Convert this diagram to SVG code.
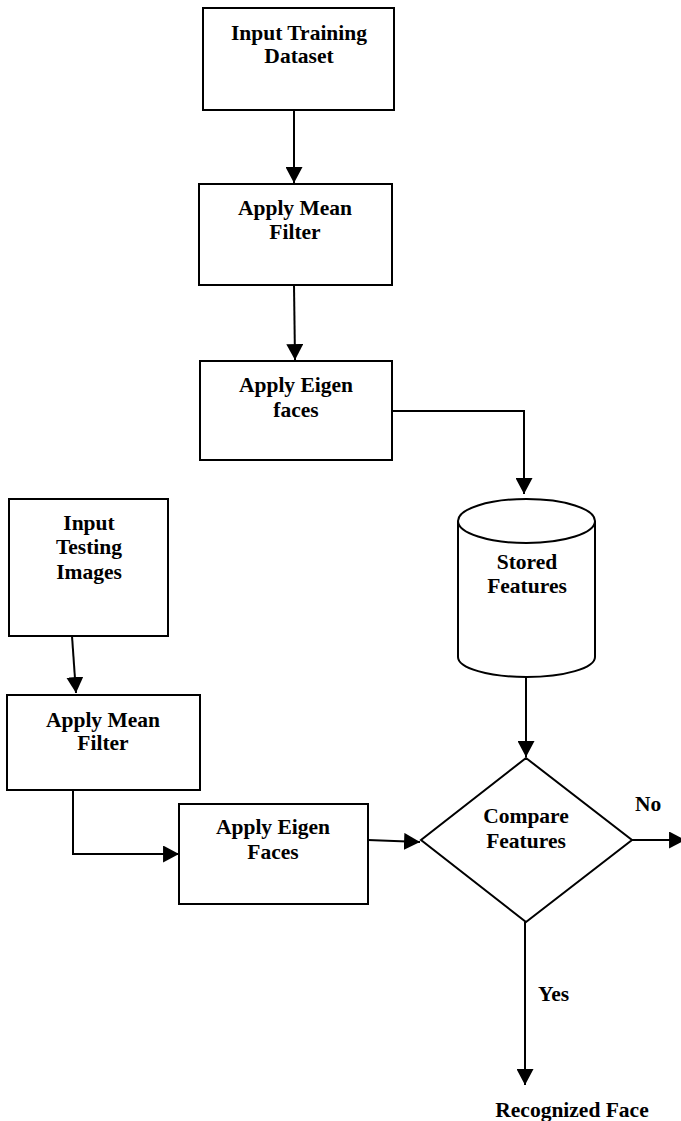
<svg xmlns="http://www.w3.org/2000/svg" width="681" height="1121" viewBox="0 0 681 1121">
<style>
.box{fill:#fff;stroke:#000;stroke-width:2}
.t{font-family:"Liberation Serif","Times New Roman",serif;font-weight:bold;font-size:21.5px;fill:#000;text-anchor:middle}
.tl{font-family:"Liberation Serif","Times New Roman",serif;font-weight:bold;font-size:21.5px;fill:#000}
.c{fill:none;stroke:#000;stroke-width:2}
</style>
<defs>
<marker id="ah" markerUnits="userSpaceOnUse" markerWidth="17" markerHeight="17" refX="15" refY="8" orient="auto" viewBox="0 0 16 16">
<path d="M0,0 L15,8 L0,16 z" fill="#000"/>
</marker>
</defs>
<rect width="681" height="1121" fill="#fff"/>
<g id="connectors">
<path class="c" d="M294,110 L294,183" marker-end="url(#ah)"/>
<path class="c" d="M294,285 L295,360" marker-end="url(#ah)"/>
<path class="c" d="M392,411 L524,411 L524,494" marker-end="url(#ah)"/>
<path class="c" d="M526,677 L526,757" marker-end="url(#ah)"/>
<path class="c" d="M72,636 L76,693" marker-end="url(#ah)"/>
<path class="c" d="M73,790 L73,854 L179,854" marker-end="url(#ah)"/>
<path class="c" d="M368,840 L420,842" marker-end="url(#ah)"/>
<path class="c" d="M632,840 L685,840" marker-end="url(#ah)"/>
<path class="c" d="M525,922 L525,1085" marker-end="url(#ah)"/>
</g>
<g id="input-training">
<rect class="box" x="203" y="8" width="191" height="102"/>
<text class="t" x="299" y="40">Input Training</text>
<text class="t" x="299" y="63">Dataset</text>
</g>
<g id="mean-filter-1">
<rect class="box" x="199" y="184" width="193" height="101"/>
<text class="t" x="295" y="215">Apply Mean</text>
<text class="t" x="295" y="239">Filter</text>
</g>
<g id="eigen-1">
<rect class="box" x="200" y="361" width="192" height="99"/>
<text class="t" x="296" y="392">Apply Eigen</text>
<text class="t" x="296" y="417">faces</text>
</g>
<g id="stored-features">
<path class="box" d="M458,521 L458,657 A68.5,20 0 0 0 595,657 L595,521"/>
<ellipse class="box" cx="526.5" cy="521" rx="68.5" ry="22"/>
<text class="t" x="527" y="569">Stored</text>
<text class="t" x="527" y="593">Features</text>
</g>
<g id="input-testing">
<rect class="box" x="9" y="499" width="159" height="137"/>
<text class="t" x="89" y="530">Input</text>
<text class="t" x="89" y="554">Testing</text>
<text class="t" x="89" y="579">Images</text>
</g>
<g id="mean-filter-2">
<rect class="box" x="7" y="695" width="193" height="95"/>
<text class="t" x="103" y="727">Apply Mean</text>
<text class="t" x="103" y="750">Filter</text>
</g>
<g id="eigen-2">
<rect class="box" x="179" y="804" width="189" height="100"/>
<text class="t" x="273" y="834">Apply Eigen</text>
<text class="t" x="273" y="859">Faces</text>
</g>
<g id="compare">
<polygon class="box" points="526,758 632,840 526,922 421,840"/>
<text class="t" x="526" y="823">Compare</text>
<text class="t" x="526" y="848">Features</text>
</g>
<g id="labels">
<text class="tl" x="635" y="811">No</text>
<text class="tl" x="538" y="1001">Yes</text>
</g>
<g id="recognized">
<text class="t" x="572" y="1117">Recognized Face</text>
</g>
</svg>
